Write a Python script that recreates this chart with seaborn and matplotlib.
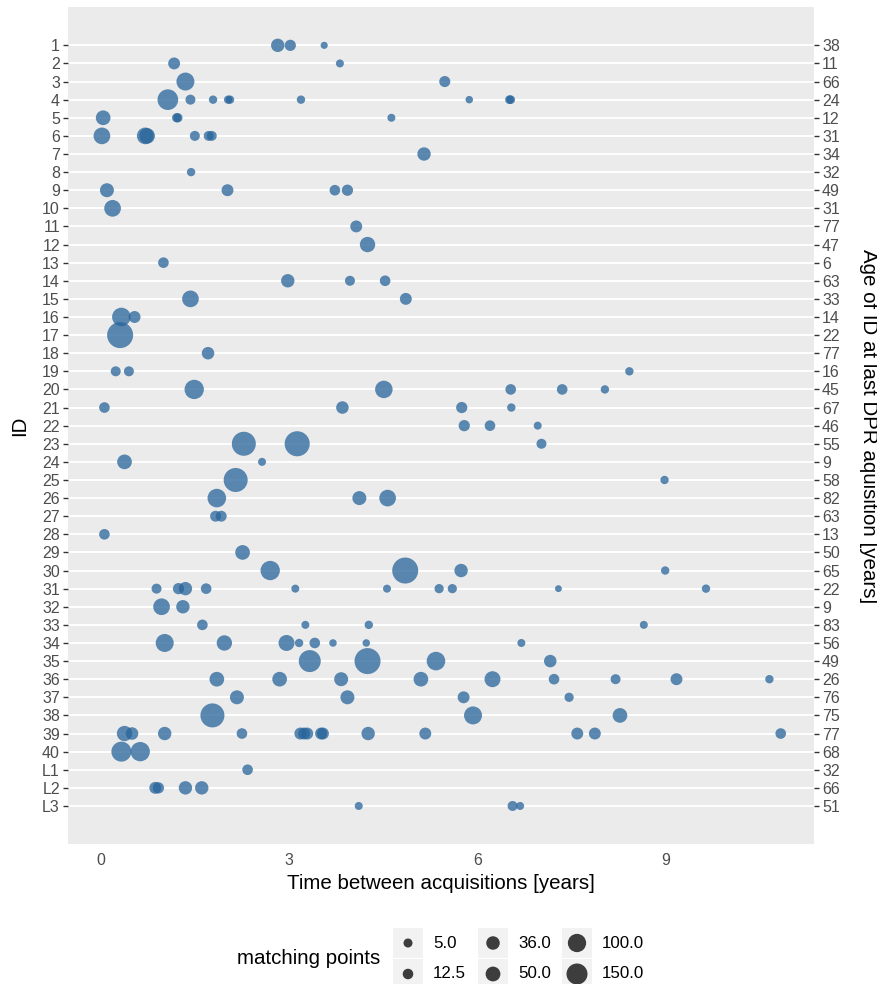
import numpy as np
import pandas as pd
import matplotlib
matplotlib.use("Agg")
import matplotlib.pyplot as plt
import matplotlib.colors as mcolors
from matplotlib.patches import Rectangle
import seaborn as sns

# ---- data -------------------------------------------------------------
ids = [str(i) for i in range(1, 41)] + ["L1", "L2", "L3"]
ages = [38, 11, 66, 24, 12, 31, 34, 32, 49, 31, 77, 47, 6, 63, 33, 14, 22, 77,
        16, 45, 67, 46, 55, 9, 58, 82, 63, 13, 50, 65, 22, 9, 83, 56, 49, 26,
        76, 75, 77, 68, 32, 66, 51]

pt_id = (["1"] * 3 + ["2"] * 2 + ["3"] * 2 + ["4"] * 9 + ["5"] * 4 + ["6"] * 6
         + ["7"] + ["8"] + ["9"] * 4 + ["10"] + ["11"] + ["12"] + ["13"]
         + ["14"] * 3 + ["15"] * 2 + ["16"] * 2 + ["17"] + ["18"] + ["19"] * 3
         + ["20"] * 5 + ["21"] * 4 + ["22"] * 3 + ["23"] * 3 + ["24"] * 2
         + ["25"] * 2 + ["26"] * 3 + ["27"] * 2 + ["28"] + ["29"] + ["30"] * 4
         + ["31"] * 10 + ["32"] * 2 + ["33"] * 4 + ["34"] * 8 + ["35"] * 4
         + ["36"] * 9 + ["37"] * 4 + ["38"] * 3 + ["39"] * 14 + ["40"] * 2
         + ["L1"] + ["L2"] * 4 + ["L3"] * 3)

pt_years = [
    2.82, 3.02, 3.56,
    1.17, 3.81,
    1.35, 5.48,
    1.07, 1.43, 1.79, 2.03, 2.06, 3.19, 5.87, 6.51, 6.53,
    0.04, 1.21, 1.23, 4.63,
    0.02, 0.71, 0.74, 1.50, 1.72, 1.77,
    5.15,
    1.44,
    0.10, 2.02, 3.73, 3.93,
    0.19,
    4.07,
    4.25,
    1.00,
    2.98, 3.97, 4.53,
    1.43, 4.86,
    0.33, 0.54,
    0.31,
    1.71,
    0.24, 0.45, 8.42,
    1.49, 4.51, 6.53, 7.35, 8.03,
    0.06, 3.85, 5.75, 6.54,
    5.79, 6.20, 6.96,
    2.28, 3.13, 7.02,
    0.38, 2.57,
    2.15, 8.98,
    1.85, 4.12, 4.57,
    1.83, 1.92,
    0.06,
    2.26,
    2.70, 4.85, 5.74, 8.99,
    0.89, 1.24, 1.35, 1.68, 3.10, 4.56, 5.39, 5.60, 7.29, 9.64,
    0.97, 1.31,
    1.62, 3.26, 4.27, 8.65,
    1.02, 1.97, 2.96, 3.16, 3.41, 3.70, 4.23, 6.70,
    3.33, 4.25, 5.34, 7.16,
    1.85, 2.85, 3.83, 5.10, 6.24, 7.22, 8.20, 9.17, 10.65,
    2.17, 3.93, 5.78, 7.46,
    1.78, 5.93, 8.27,
    0.38, 0.50, 1.02, 2.25, 3.18, 3.24, 3.29, 3.51, 3.54, 4.26, 5.17, 7.59, 7.87, 10.83,
    0.33, 0.63,
    2.34,
    0.87, 0.92, 1.35, 1.61,
    4.11, 6.56, 6.68,
]

pt_matches = [
    35, 17, 0.5,
    22, 2,
    95, 16,
    143, 9.5, 3, 3, 3, 3, 1, 4, 4,
    49, 6, 6, 2,
    75, 75, 60, 9.5, 9, 9,
    35,
    3,
    41, 22, 13, 17,
    75,
    22,
    57,
    13,
    35, 9.5, 13,
    75, 22,
    105, 22,
    270,
    27,
    9.5, 9.5, 3,
    118, 87, 13, 13, 3,
    13, 27, 17, 3,
    17, 13, 2,
    218, 245, 9.5,
    49, 2,
    218, 3,
    105, 41, 75,
    15, 15,
    13,
    49,
    118, 270, 35, 3,
    9.5, 17, 35, 13, 2, 2, 6, 6, 0.2, 3,
    75, 35,
    13, 2, 3, 2,
    95, 57, 65, 3, 13, 1, 1, 2,
    171, 270, 105, 27,
    49, 49, 41, 49, 65, 13, 9.5, 22, 3,
    41, 41, 22, 6,
    218, 95, 49,
    57, 27, 35, 13, 22, 22, 22, 22, 22, 35, 22, 22, 22, 13,
    130, 118,
    13,
    22, 17, 35, 35,
    2, 9.5, 2,
]

legend_breaks = [5, 12.5, 36, 50, 100, 150]
x_ticks = [0, 3, 6, 9]

# ---- styling ------------------------------------------------------------
sns.set_style("darkgrid")
plt.rcParams["font.family"] = ["Liberation Sans", "DejaVu Sans"]

POINT = "#27649A"
PANEL = "#EBEBEB"
TICK_TXT = "#4D4D4D"
TICK_LINE = "#333333"
TICK_SIZE = 11.5
TITLE_SIZE = 14.8

# marker diameter grows with sqrt(value): area ~ (offset + sqrt(v))^2
OFFSET = 5.25
SCALE = 0.7465


def _fwd(v):
    return (OFFSET + np.sqrt(np.clip(v, 0, None))) ** 2


def _inv(a):
    return (np.sqrt(a) - OFFSET) ** 2


SIZE_MAX = 300
size_norm = mcolors.FuncNorm((_fwd, _inv), vmin=0, vmax=SIZE_MAX)
size_range = (SCALE * _fwd(0.0), SCALE * _fwd(float(SIZE_MAX)))

df = pd.DataFrame({
    "id": pd.Categorical(pt_id, categories=ids, ordered=True),
    "years": pt_years,
    "matches": pt_matches,
})

W, H = 878, 984
fig = plt.figure(figsize=(W / 100, H / 100), dpi=100)
fig.patch.set_facecolor("white")

left, right, top, bottom = 68, 814, 7.3, 844
ax_w, ax_h = right - left, bottom - top
ax = fig.add_axes([left / W, 1 - bottom / H, ax_w / W, ax_h / H])
ax.set_facecolor(PANEL)

sns.scatterplot(data=df, x="years", y="id", size="matches",
                sizes=size_range, size_norm=size_norm,
                color=POINT, alpha=0.75, linewidth=0, legend=False, ax=ax)

n = len(ids)
ax.set_xlim(-0.52, 11.36)
ax.set_ylim(n - 1 + 2.1, -2.1)
ax.set_yticks(range(n))
ax.set_yticklabels(ids)
ax.set_xticks(x_ticks)
ax.set_xticklabels([str(t) for t in x_ticks])

ax.grid(False)
ax.grid(axis="y", color="white", linewidth=1.4)
ax.set_axisbelow(True)
for s in ax.spines.values():
    s.set_visible(False)

ax.tick_params(axis="both", which="major", length=3.8, width=1.0,
               color=TICK_LINE, labelcolor=TICK_TXT, labelsize=TICK_SIZE, pad=2)
ax.tick_params(axis="x", pad=3)

ax.set_xlabel("Time between acquisitions [years]", fontsize=TITLE_SIZE,
              color="black")
ax.set_ylabel("ID", fontsize=TITLE_SIZE, color="black")
ax.xaxis.set_label_coords(0.5, (bottom - 874) / ax_h)
ax.yaxis.set_label_coords((29 - left) / ax_w, 0.5)

# secondary axis with the age of each ID
ax2 = ax.twinx()
ax2.set_ylim(ax.get_ylim())
ax2.set_yticks(range(n))
ax2.set_yticklabels([str(a) for a in ages])
ax2.grid(False)
ax2.patch.set_visible(False)
for s in ax2.spines.values():
    s.set_visible(False)
ax2.tick_params(axis="y", length=3.8, width=1.0, color=TICK_LINE,
                labelcolor=TICK_TXT, labelsize=TICK_SIZE, pad=2)
ax2.set_ylabel("Age of ID at last DPR aquisition [years]", fontsize=TITLE_SIZE,
               color="black", rotation=-90)
ax2.yaxis.set_label_coords((878 - left) / ax_w, 0.5)

# ---- size legend -------------------------------------------------------
lax = fig.add_axes([0, 0, 1, 1])
lax.patch.set_visible(False)

col_x = [408, 493, 577]
row_y = [943, 974]
key = 30
key_x, key_y = [], []
for i, v in enumerate(legend_breaks):
    cx = col_x[i // 2]
    cy = row_y[i % 2]
    key_x.append(cx)
    key_y.append(cy)
    lax.add_patch(Rectangle((cx - key / 2, cy - key / 2), key, key,
                            facecolor="#F2F2F2", edgecolor="none", zorder=0))
    lax.text(cx + 25, cy, f"{v:.1f}", ha="left", va="center",
             fontsize=12.2, color="black")

sns.scatterplot(x=key_x, y=key_y, size=legend_breaks,
                sizes=size_range, size_norm=size_norm,
                color="black", alpha=0.75, linewidth=0, legend=False, ax=lax)
lax.set_xlim(0, W)
lax.set_ylim(H, 0)
lax.axis("off")

lax.text(380, 959, "matching points", ha="right", va="center",
         fontsize=TITLE_SIZE, color="black")

fig.savefig("out.png", dpi=100)
